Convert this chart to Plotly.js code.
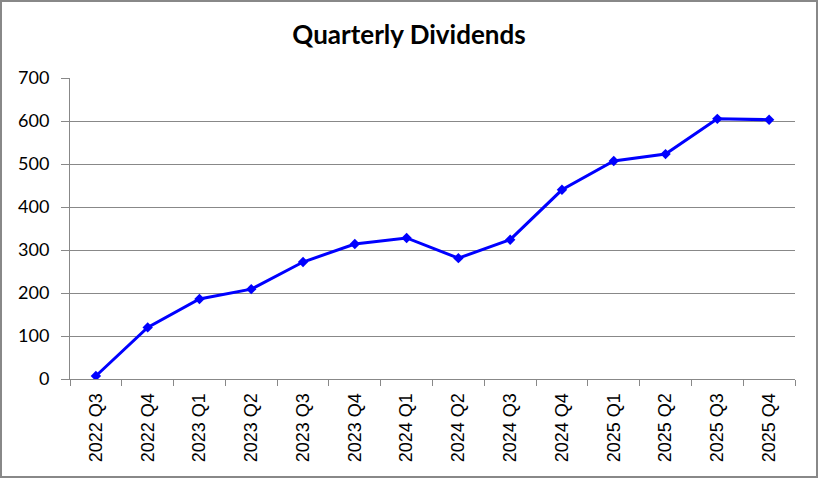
<!DOCTYPE html>
<html>
<head>
<meta charset="utf-8">
<script src="https://cdn.plot.ly/plotly-3.0.1.min.js"></script>
<style>
  html, body { margin: 0; padding: 0; background: #fff; }
  #wrap { position: relative; width: 818px; height: 478px; }
  #chart { width: 818px; height: 478px; }
  #frame { position: absolute; left: 0; top: 0; width: 818px; height: 478px; box-sizing: border-box; border: 2px solid #888; pointer-events: none; }
</style>
</head>
<body>
<div id="wrap"><div id="chart"></div><div id="frame"></div></div>
<script>
const quarters = ["2022 Q3","2022 Q4","2023 Q1","2023 Q2","2023 Q3","2023 Q4","2024 Q1","2024 Q2","2024 Q3","2024 Q4","2025 Q1","2025 Q2","2025 Q3","2025 Q4"];
const dividends = [7, 120, 186, 209, 272, 314, 328, 281, 324, 440, 507, 523, 605, 603];
const chartTitle = "Quarterly Dividends";
const yTicks = [0, 100, 200, 300, 400, 500, 600, 700];

const trace = {
  x: quarters,
  y: dividends,
  type: "scatter",
  mode: "lines+markers",
  line: { color: "#0000FF", width: 3 },
  marker: { symbol: "diamond", size: 8, color: "#0000FF" },
  hoverinfo: "x+y"
};

const layout = {
  width: 818,
  height: 478,
  margin: { l: 70, r: 23, t: 78, b: 99 },
  paper_bgcolor: "#fff",
  plot_bgcolor: "#fff",
  showlegend: false,
  title: {
    text: "<b>" + chartTitle + "</b>",
    font: { family: "Lato, 'Open Sans', sans-serif", size: 26, color: "#000" },
    x: 0.5, xanchor: "center", y: 0.927, yanchor: "middle"
  },
  xaxis: {
    type: "category",
    tickangle: -90,
    tickson: "boundaries",
    ticks: "outside",
    ticklen: 6,
    tickcolor: "#888",
    showgrid: false,
    showline: true,
    linecolor: "#888",
    linewidth: 1,
    tickfont: { family: "'Liberation Sans', Arial, sans-serif", size: 18, color: "#000" },
    ticklabelstandoff: 6,
    range: [-0.5, quarters.length - 0.5]
  },
  yaxis: {
    range: [0, 700],
    tickvals: yTicks,
    ticktext: yTicks.map(String),
    ticks: "outside",
    ticklen: 8,
    tickcolor: "#888",
    showgrid: true,
    gridcolor: "#888",
    gridwidth: 1,
    showline: true,
    linecolor: "#888",
    linewidth: 1,
    zeroline: false,
    tickfont: { family: "Lato, 'Open Sans', sans-serif", size: 18, color: "#000" },
    ticklabelstandoff: 8
  }
};

Plotly.newPlot("chart", [trace], layout, { displayModeBar: false, staticPlot: true });
</script>
</body>
</html>
